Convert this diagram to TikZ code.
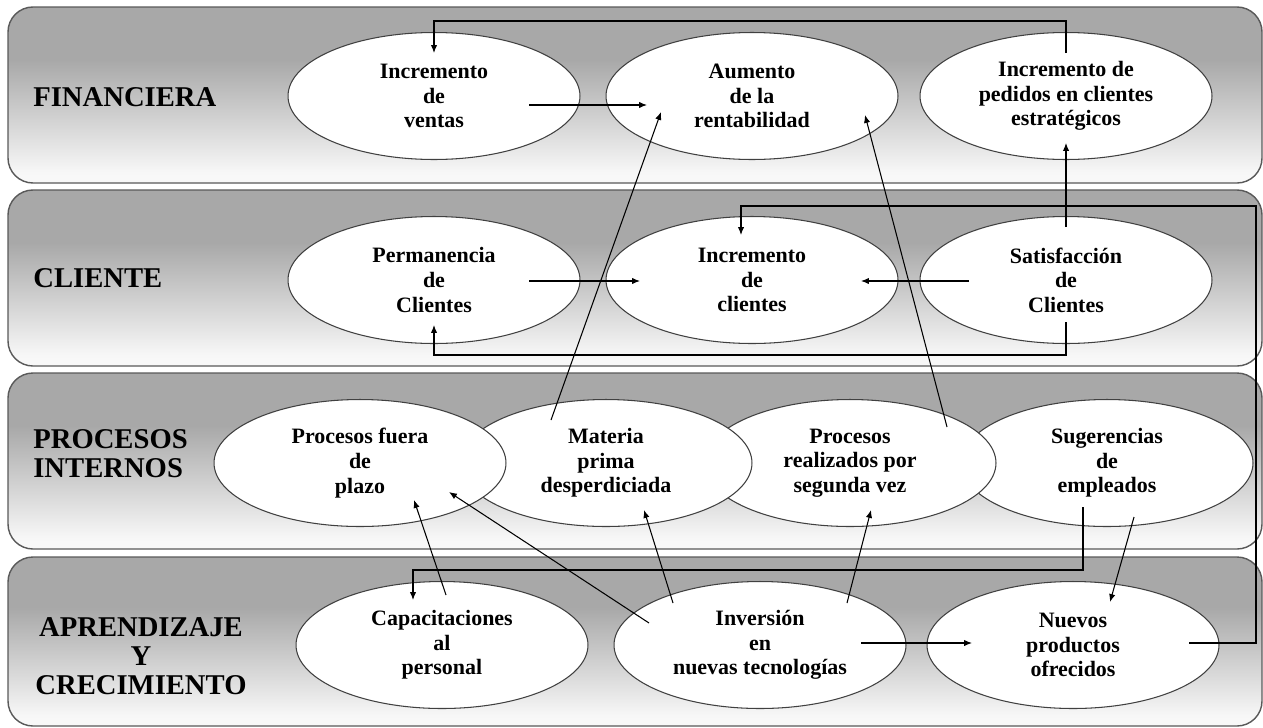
\documentclass[tikz,border=0pt]{standalone}
\usepackage{fontspec}
\setmainfont{Liberation Serif}
\usetikzlibrary{arrows.meta,shapes.geometric,calc}
\pgfdeclareverticalshading{bandshade}{100bp}{color(0bp)=(white); color(28bp)=(white!97!black); color(60bp)=(black!34); color(100bp)=(black!34)}

\begin{document}
\begin{tikzpicture}[x=0.02cm,y=-0.02cm,
  band/.style={rounded corners=0.5cm,shading=bandshade,draw=black!65,line width=0.8pt},
  persp/.style={font=\fontsize{16.3}{16.5}\selectfont\bfseries,anchor=west,align=left,inner sep=0pt},
  obj/.style={ellipse,draw=black!75,line width=0.6pt,fill=white,minimum width=5.84cm,minimum height=2.54cm,inner sep=0pt,align=center,font=\fontsize{12.5}{14}\selectfont\bfseries},
  link/.style={-{Latex[length=4.5pt,width=3.6pt]},line width=0.6pt}
]
\useasboundingbox (0,0) rectangle (1263,727);
% perspectivas
\draw[band] (8,7) rectangle (1262,183);
\draw[band] (8,190) rectangle (1262,366);
\draw[band] (8,373) rectangle (1262,549);
\draw[band] (8,557) rectangle (1262,726);
\node[persp] (lfin) at (33,97) {FINANCIERA};
\node[persp] (lcli) at (33,278) {CLIENTE};
\node[persp] (lpro) at (33,454) {PROCESOS\\INTERNOS};
\node[persp,anchor=center,align=center] (lapr) at (141,656) {APRENDIZAJE\\Y\\CRECIMIENTO};
% objetivos
\node[obj] (ventas)  at (434,96)  {Incremento\\de\\ventas};
\node[obj] (rentab)  at (752,96)  {Aumento\\de la\\rentabilidad};
\node[obj] (pedidos) at (1066,96) {Incremento de\\pedidos en clientes\\estratégicos};
\node[obj] (perman)  at (434,280) {Permanencia\\de\\Clientes};
\node[obj] (inccli)  at (752,280) {Incremento\\de\\clientes};
\node[obj] (satisf)  at (1066,280) {Satisfacción\\de\\Clientes};
\node[obj] (suger)   at (1107,463) {Sugerencias\\de\\empleados};
\node[obj] (segunda) at (850,463) {Procesos\\realizados por\\segunda vez};
\node[obj] (materia) at (606,463) {Materia\\prima\\desperdiciada};
\node[obj] (fuera)   at (360,463) {Procesos fuera\\de\\plazo};
\node[obj] (capac)   at (442,645) {Capacitaciones\\al\\personal};
\node[obj] (invers)  at (760,645) {Inversión\\en\\nuevas tecnologías};
\node[obj] (nuevos)  at (1073,645) {Nuevos\\productos\\ofrecidos};
% relaciones causa-efecto
\draw[link] ($(pedidos)+(0,-43)$) |- ($(ventas)+(0,-75)$) -- ($(ventas)+(0,-43)$);
\draw[link] ($(ventas)+(95,9)$) -- ($(rentab)+(-105,9)$);
\draw[link] ($(materia)+(-55,-43)$) -- ($(rentab)+(-91,16)$);
\draw[link] ($(segunda)+(97,-36)$) -- ($(rentab)+(113,19)$);
\draw[link] ($(satisf)+(0,-53)$) -- ($(pedidos)+(0,47)$);
\draw[link] ($(perman)+(95,1)$) -- ($(inccli)+(-112,1)$);
\draw[link] ($(satisf)+(-97,1)$) -- ($(inccli)+(109,1)$);
\draw[link] ($(satisf)+(0,42)$) |- ($(perman)+(0,75)$) -- ($(perman)+(0,45)$);
\draw[link] ($(nuevos)+(116,-2)$) -- ++(67,0) |- ($(inccli)+(-11,-74)$) -- ($(inccli)+(-11,-45)$);
\draw[link] ($(invers)+(101,-2)$) -- ($(nuevos)+(-101,-2)$);
\draw[link] ($(suger)+(27,54)$) -- ($(nuevos)+(37,-43)$);
\draw[link] ($(suger)+(-24,44)$) |- ($(capac)+(-29,-75)$) -- ($(capac)+(-29,-45)$);
\draw[link] ($(capac)+(4,-50)$) -- ($(fuera)+(54,37)$);
\draw[link] ($(invers)+(-111,-22)$) -- ($(fuera)+(89,29)$);
\draw[link] ($(invers)+(-87,-42)$) -- ($(materia)+(38,47)$);
\draw[link] ($(invers)+(87,-42)$) -- ($(segunda)+(21,47)$);
\end{tikzpicture}
\end{document}
